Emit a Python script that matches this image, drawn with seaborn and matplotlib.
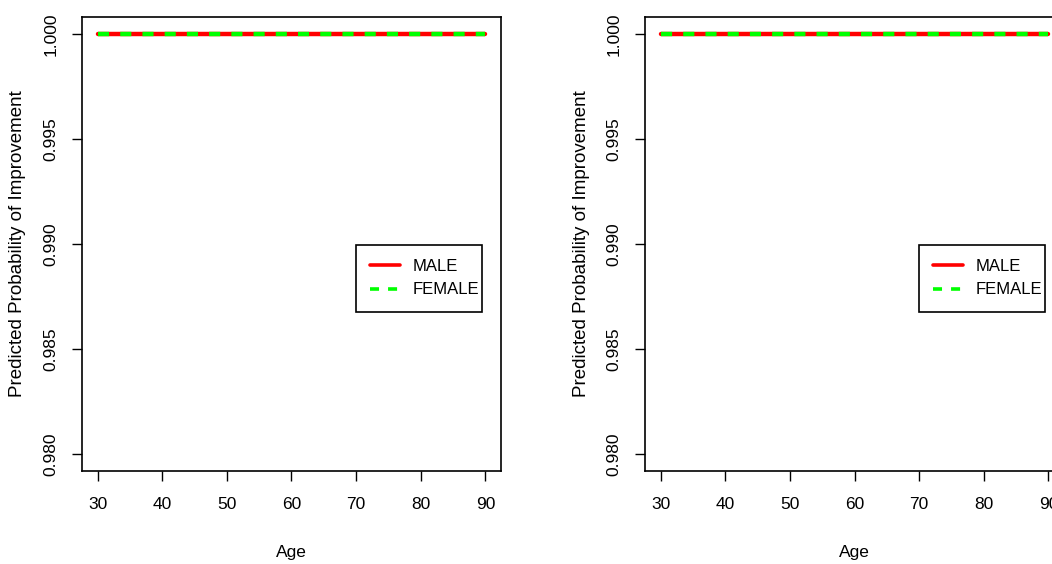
import matplotlib

matplotlib.use("Agg")

import matplotlib.pyplot as plt
import pandas as pd
import seaborn as sns

# data: predicted probability is flat at 1.000 for both groups
ages = [30, 40, 50, 60, 70, 80, 90]
male_prob = [1.0, 1.0, 1.0, 1.0, 1.0, 1.0, 1.0]
female_prob = [1.0, 1.0, 1.0, 1.0, 1.0, 1.0, 1.0]
groups = ["MALE", "FEMALE"]
x_ticks = [30, 40, 50, 60, 70, 80, 90]
y_ticks = [0.980, 0.985, 0.990, 0.995, 1.000]

df = pd.DataFrame({
    "Age": ages * 2,
    "prob": male_prob + female_prob,
    "Sex": [groups[0]] * len(ages) + [groups[1]] * len(ages),
})

sns.set_style("ticks")
plt.rcParams["font.family"] = ["Liberation Sans", "DejaVu Sans"]
plt.rcParams["text.color"] = "black"
plt.rcParams["axes.labelcolor"] = "black"

fig = plt.figure(figsize=(10.52, 5.64), dpi=100)
W, H = 1052, 564
panels = [82, 645]  # left edge in px of each plot box
box_w, box_h = 419, 454

for left in panels:
    ax = fig.add_axes([left / W, (H - 471) / H, box_w / W, box_h / H])
    sns.lineplot(
        data=df, x="Age", y="prob", hue="Sex", style="Sex",
        palette={"MALE": "#ff0000", "FEMALE": "#00ff00"},
        dashes={"MALE": "", "FEMALE": (2.5, 2.5)},
        linewidth=3.2, ax=ax,
    )
    ax.set_xlim(27.6, 92.4)
    ax.set_ylim(0.9792, 1.0008)
    ax.set_xticks(x_ticks)
    ax.set_xticklabels([str(v) for v in x_ticks], fontsize=12.5)
    ax.set_yticks(y_ticks)
    ax.set_yticklabels([f"{v:.3f}" for v in y_ticks], rotation=90, va="center",
                       fontsize=12.5)
    ax.tick_params(axis="both", direction="out", length=7, width=1,
                   colors="black")
    ax.tick_params(axis="x", pad=12)
    ax.tick_params(axis="y", pad=10)
    for s in ax.spines.values():
        s.set_visible(True)
        s.set_color("black")
        s.set_linewidth(1.2)
    ax.set_xlabel("Age", fontsize=12.5, va="center")
    ax.xaxis.set_label_coords(0.5, (471 - 552) / box_h)
    ax.set_ylabel("Predicted Probability of Improvement", fontsize=13.5, va="center")
    ax.yaxis.set_label_coords((18 - 82) / box_w, 0.5)

    handles, labels = ax.get_legend_handles_labels()
    for h in handles:
        h.set_linewidth(2.6)
    leg = ax.legend(
        handles, labels, loc="upper left", mode="expand",
        bbox_to_anchor=((356 - left + left - 82) / box_w, (471 - 245) / box_h,
                        126 / box_w, 0),
        frameon=True, fancybox=False, framealpha=1, edgecolor="black",
        fontsize=12, handlelength=1.8, handletextpad=0.75, borderpad=0.85,
        labelspacing=0.5, borderaxespad=0,
    )
    leg.get_frame().set_linewidth(1.2)

fig.savefig("out.png", dpi=100)
